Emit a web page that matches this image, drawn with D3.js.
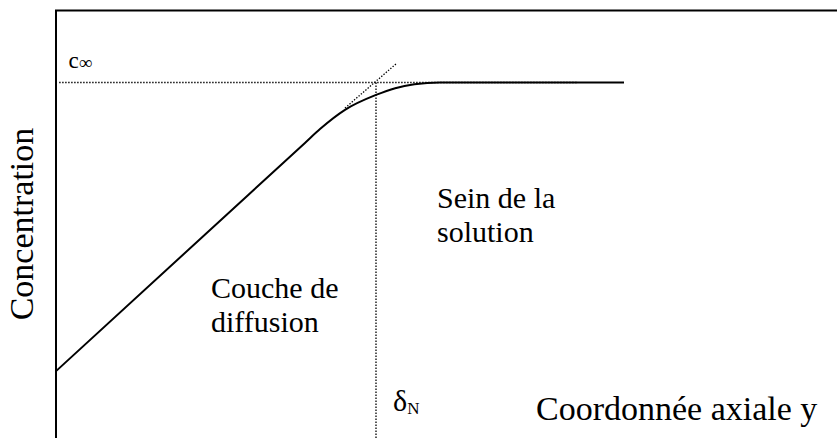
<!DOCTYPE html>
<html>
<head>
<meta charset="utf-8">
<script src="https://cdn.jsdelivr.net/npm/d3@7"></script>
<style>
  body { margin: 0; background: #fff; }
</style>
</head>
<body>
<div class="canvas"></div>
<script>
// concentration profile (x in units of delta_N, c in units of c_inf)
const profileX = [0, 0.778, 0.825, 0.903, 1.0, 1.06, 1.12, 1.2, 1.775];
const profileC = [0.188, 0.830, 0.869, 0.923, 0.965, 0.984, 0.995, 1.0, 1.0];

// dotted tangent to the linear part
const tangentX = [0.903, 1.066];
const tangentC = [0.928, 1.055];

// dotted guides
const cInfLine = { x: [0.01, 1.63], c: 1.0 };
const deltaLine = { x: 1.0, c: [1.0, 0] };

const svgWidth = 837;
const svgHeight = 438;
const frameLeft = 56;
const frameTop = 10.5;
const serif = 'Liberation Serif';

const x = d3.scaleLinear().domain([0, 1]).range([frameLeft, 376]);
const y = d3.scaleLinear().domain([0, 1]).range([438, 82.5]);

const svg = d3.select('.canvas')
    .append('svg')
    .attr('width', svgWidth)
    .attr('height', svgHeight);

// frame (top + left only, rest is cropped)
svg.append('path')
    .attr('d', `M${svgWidth},${frameTop}H${frameLeft}V${svgHeight}`)
    .attr('fill', 'none')
    .attr('stroke', '#000')
    .attr('stroke-width', 2);

const dotted = sel => sel
    .attr('fill', 'none')
    .attr('stroke', '#000')
    .attr('stroke-width', 1.3)
    .attr('stroke-dasharray', '1.4,1.6');

const line = d3.line().x(d => x(d[0])).y(d => y(d[1]));

svg.append('path')
    .attr('d', line(cInfLine.x.map(v => [v, cInfLine.c])))
    .call(dotted);

svg.append('path')
    .attr('d', line(deltaLine.c.map(v => [deltaLine.x, v])))
    .call(dotted);

svg.append('path')
    .attr('d', line(tangentX.map((v, i) => [v, tangentC[i]])))
    .call(dotted);

// profile
const profile = d3.line()
    .x(d => x(d[0]))
    .y(d => y(d[1]))
    .curve(d3.curveMonotoneX);

svg.append('path')
    .attr('d', profile(profileX.map((v, i) => [v, profileC[i]])))
    .attr('fill', 'none')
    .attr('stroke', '#000')
    .attr('stroke-width', 2);

// labels
const label = (size) => svg.append('text')
    .attr('font-family', serif)
    .attr('font-size', size);

const cInf = label(23).attr('x', 68.5).attr('y', 68);
cInf.append('tspan').text('c');
cInf.append('tspan').attr('dy', 1).attr('font-size', 19).text('∞');

label(34)
    .attr('transform', 'translate(33,224) rotate(-90)')
    .attr('text-anchor', 'middle')
    .text('Concentration');

const couche = label(30);
couche.append('tspan').attr('x', 211).attr('y', 298).text('Couche de');
couche.append('tspan').attr('x', 211).attr('y', 332).text('diffusion');

const sein = label(30);
sein.append('tspan').attr('x', 437).attr('y', 208).text('Sein de la');
sein.append('tspan').attr('x', 437).attr('y', 242).text('solution');

const delta = label(30).attr('x', 393).attr('y', 411);
delta.append('tspan').text('δ');
delta.append('tspan').attr('dy', 3).attr('font-size', 17).text('N');

label(34)
    .attr('x', 536)
    .attr('y', 420)
    .text('Coordonnée axiale y');
</script>
</body>
</html>
